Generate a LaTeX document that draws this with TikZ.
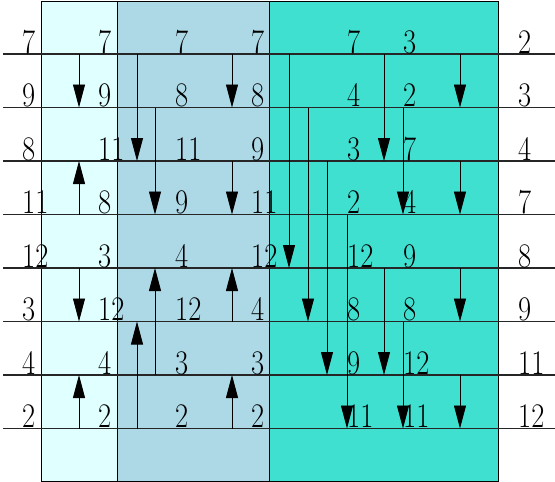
\documentclass[tikz,border=0pt]{standalone}
\usepackage{tikz}
\usetikzlibrary{arrows.meta}
\definecolor{boxone}{HTML}{E0FFFF}
\definecolor{boxtwo}{HTML}{ADD8E6}
\definecolor{boxthree}{HTML}{40E0D0}
\newcommand{\tallnum}[1]{\scalebox{0.95}[1.15]{#1}}
\tikzset{
  wire/.style={line width=1.1pt,black!85},
  cmp/.style={-{Triangle[length=23pt,width=12pt]},line width=0.9pt},
  val/.style={anchor=base west,inner sep=0pt,font=\fontsize{30}{36}\selectfont},
  stage/.style={draw,line width=0.9pt}
}

\begin{document}
\begin{tikzpicture}[x=1pt,y=-1pt]
  \useasboundingbox (0,0) rectangle (555,482);
  \draw[stage,fill=boxone] (41,1) rectangle (117,481);
  \draw[stage,fill=boxtwo] (117,1) rectangle (269,481);
  \draw[stage,fill=boxthree] (269,1) rectangle (498,481);
  % wires
  \foreach \i in {0,...,7} {
    \coordinate (wl\i) at (3,{54+53.5*\i});
    \coordinate (wr\i) at (555,{54+53.5*\i});
    \draw[wire] (wl\i) -- (wr\i);
  }
  % values after each stage
  \foreach \x/\vals [count=\k] in {22/{7,9,8,11,12,3,4,2},98/{7,9,11,8,3,12,4,2},
      175/{7,8,11,9,4,12,3,2},251/{7,8,9,11,12,4,3,2},347/{7,4,3,2,12,8,9,11},
      403/{3,2,7,4,9,8,12,11},518/{2,3,4,7,8,9,11,12}} {
    \foreach \v [count=\i from 0] in \vals
      \node[val] (v\k-\i) at (\x,{53+53.5*\i}) {\tallnum{\v}};
  }
  % comparator positions
  \foreach \n/\x in {a/79,b/137,c/155,d/232,e/289,f/308,g/327,h/347,k/384,m/403,p/460}
    \foreach \i in {0,...,7}
      \coordinate (\n\i) at (\x,{54+53.5*\i});
  \draw[cmp] (a0) -- (a1);
  \draw[cmp] (a3) -- (a2);
  \draw[cmp] (a4) -- (a5);
  \draw[cmp] (a7) -- (a6);
  \draw[cmp] (b0) -- (b2);
  \draw[cmp] (c1) -- (c3);
  \draw[cmp] (c6) -- (c4);
  \draw[cmp] (b7) -- (b5);
  \draw[cmp] (d0) -- (d1);
  \draw[cmp] (d2) -- (d3);
  \draw[cmp] (d5) -- (d4);
  \draw[cmp] (d7) -- (d6);
  \draw[cmp] (e0) -- (e4);
  \draw[cmp] (f1) -- (f5);
  \draw[cmp] (g2) -- (g6);
  \draw[cmp] (h3) -- (h7);
  \draw[cmp] (k0) -- (k2);
  \draw[cmp] (m1) -- (m3);
  \draw[cmp] (k4) -- (k6);
  \draw[cmp] (m5) -- (m7);
  \draw[cmp] (p0) -- (p1);
  \draw[cmp] (p2) -- (p3);
  \draw[cmp] (p4) -- (p5);
  \draw[cmp] (p6) -- (p7);
\end{tikzpicture}
\end{document}
